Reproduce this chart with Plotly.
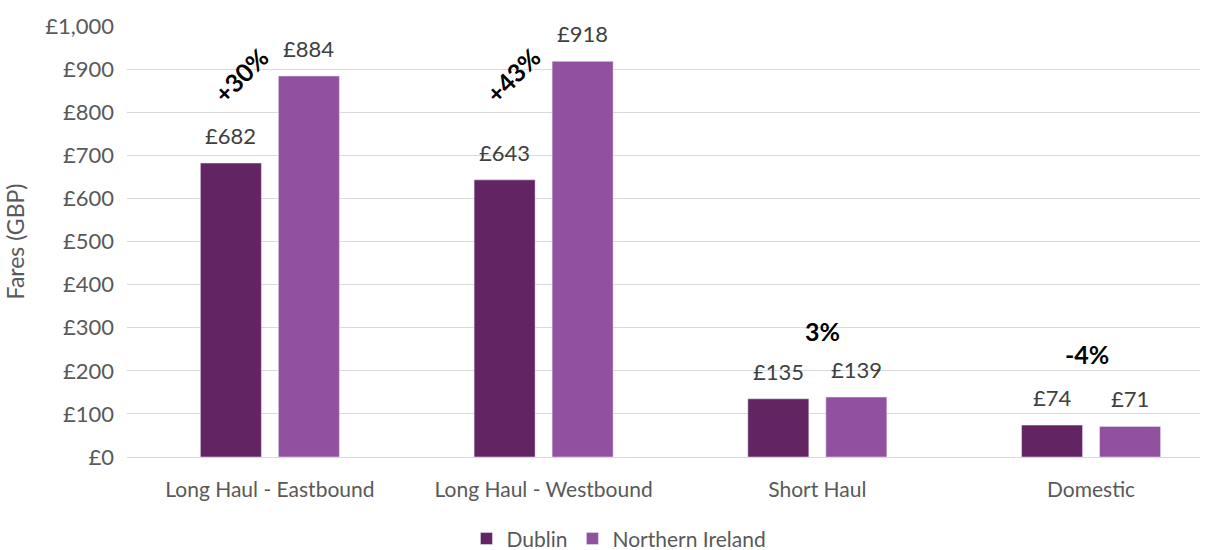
import plotly.graph_objects as go

categories = ["Long Haul - Eastbound", "Long Haul - Westbound", "Short Haul", "Domestic"]
dublin = [682, 643, 135, 74]
northern_ireland = [884, 918, 139, 71]
changes = ["+30%", "+43%", "3%", "-4%"]
change_y = [886, 886, 292, 239]
change_dx = [-0.106, -0.112, 0.02, -0.015]
change_angle = [-45, -45, 0, 0]

C_DUB = "#622462"
C_NI = "#9150A0"
FONT = "Lato"
GREY = "#595959"

x_idx = list(range(len(categories)))

fig = go.Figure()
fig.add_trace(go.Bar(x=x_idx, y=dublin, name="Dublin", marker_color=C_DUB))
fig.add_trace(go.Bar(x=x_idx, y=northern_ireland, name="Northern Ireland", marker_color=C_NI))

slot = (1 - 0.43) / 2
for i in x_idx:
    for off, vals in ((-slot / 2, dublin), (slot / 2, northern_ireland)):
        fig.add_annotation(x=i + off, y=vals[i], text=f"£{vals[i]:,}", showarrow=False,
                           yanchor="bottom", yshift=12,
                           font=dict(family=FONT, size=22, color="#404040"))
    fig.add_annotation(x=i + change_dx[i], y=change_y[i], text=f"<b>{changes[i]}</b>",
                       showarrow=False, textangle=change_angle[i],
                       font=dict(family=FONT, size=25, color="#000000"))

fig.update_layout(
    width=1216, height=550,
    margin=dict(l=127, r=16, t=26, b=93, autoexpand=False),
    plot_bgcolor="white", paper_bgcolor="white",
    barmode="group", bargap=0.43, bargroupgap=0.218,
    font=dict(family=FONT, size=22, color=GREY),
    legend=dict(orientation="h", xref="container", x=0.509, xanchor="center",
                y=-0.19, yanchor="middle", itemwidth=30,
                font=dict(family=FONT, size=21, color=GREY), traceorder="normal"),
    showlegend=True,
)
fig.update_xaxes(
    tickmode="array", tickvals=x_idx, ticktext=categories,
    range=[-0.522, 3.398], showgrid=False, automargin=False,
    showline=True, linecolor="#d9d9d9", linewidth=1,
    tickfont=dict(family=FONT, size=21, color=GREY), ticks="", ticklabelstandoff=14,
)
fig.update_yaxes(
    range=[0, 1000], dtick=100, tickprefix="£", tickformat=",d", automargin=False,
    showgrid=True, gridcolor="#d9d9d9", gridwidth=1, zeroline=False,
    title=dict(text="Fares (GBP)", font=dict(family=FONT, size=23, color=GREY), standoff=14),
    tickfont=dict(family=FONT, size=22, color=GREY), ticklabelstandoff=12,
)

fig.write_html("out.html", config={"displayModeBar": False},
               post_script="document.body.style.margin='0';")
